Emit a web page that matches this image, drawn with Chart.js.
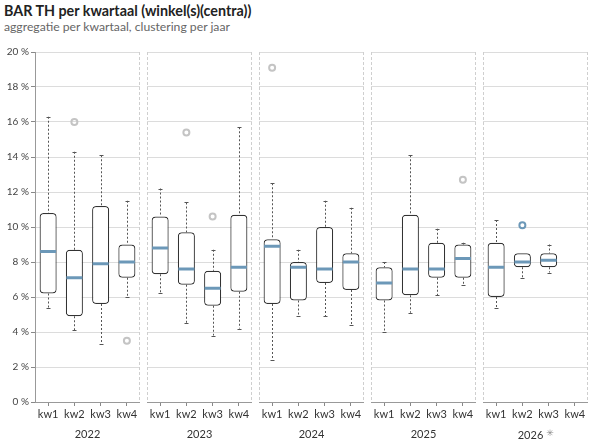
<!DOCTYPE html>
<html lang="nl">
<head>
  <meta charset="UTF-8">
  <title>BAR TH per kwartaal</title>
  <script src="https://cdn.jsdelivr.net/npm/chart.js"></script>
  <style>
    html, body { margin: 0; padding: 0; background: #fff; }
    body { width: 594px; height: 445px; position: relative; overflow: hidden; font-family: Lato, sans-serif; }
    .titel { position: absolute; left: 4px; top: 2px; font-size: 14.3px; font-weight: bold; color: #222; }
    .sub { position: absolute; left: 4px; top: 19px; font-size: 12.2px; color: #666; }
    .paneel { position: absolute; top: 40px; height: 405px; }
  </style>
</head>
<body>
  <div class="titel">BAR TH per kwartaal (winkel(s)(centra))</div>
  <div class="sub">aggregatie per kwartaal, clustering per jaar</div>

  <div class="paneel" style="left:0;width:140px"><canvas id="p0"></canvas></div>
  <div class="paneel" style="left:147px;width:105px"><canvas id="p1"></canvas></div>
  <div class="paneel" style="left:259px;width:105px"><canvas id="p2"></canvas></div>
  <div class="paneel" style="left:371px;width:105px"><canvas id="p3"></canvas></div>
  <div class="paneel" style="left:483px;width:105px"><canvas id="p4"></canvas></div>

  <script>
    // waarden in %, per jaar per kwartaal
    const years = ['2022', '2023', '2024', '2025', '2026'];
    const quarters = ['kw1', 'kw2', 'kw3', 'kw4'];
    const yTicks = [0, 2, 4, 6, 8, 10, 12, 14, 16, 18, 20];

    const whiskerLow  = [[5.4, 4.1, 3.3, 6.0], [6.2, 4.5, 3.8, 4.2], [2.4, 4.9, 4.9, 4.4], [4.0, 5.1, 6.1, 6.7], [5.4, 7.1, 7.4, null]];
    const q1          = [[6.2, 4.9, 5.6, 7.1], [7.3, 6.7, 5.5, 6.3], [5.6, 5.8, 6.8, 6.4], [5.8, 6.1, 7.1, 7.1], [6.0, 7.7, 7.7, null]];
    const median      = [[8.6, 7.1, 7.9, 8.0], [8.8, 7.6, 6.5, 7.7], [8.9, 7.7, 7.6, 8.0], [6.8, 7.6, 7.6, 8.2], [7.7, 8.0, 8.1, null]];
    const q3          = [[10.8, 8.7, 11.2, 9.0], [10.6, 9.7, 7.5, 10.7], [9.3, 8.0, 10.0, 8.5], [7.7, 10.7, 9.1, 9.0], [9.1, 8.5, 8.5, null]];
    const whiskerHigh = [[16.3, 14.3, 14.1, 11.5], [12.2, 11.4, 8.7, 15.7], [12.5, 8.7, 11.5, 11.1], [8.0, 14.1, 9.9, 9.1], [10.4, 8.5, 9.0, null]];
    const outliers    = [[[], [16.0], [], [3.5]], [[], [15.4], [10.6], []], [[19.1], [], [], []], [[], [], [], [12.7]], [[], [10.1], [], []]];
    const voorlopig = 4; // 2026 is nog niet compleet

    const BLAUW = '#6c98b8';
    const GRIJS = '#c4c4c4';

    const boxParts = {
      id: 'boxParts',
      beforeDatasetsDraw(chart) {
        const i = chart.options.plugins.boxParts.year;
        const { ctx, chartArea: a, scales: { x, y } } = chart;
        ctx.save();
        // gestippelde paneelranden
        ctx.strokeStyle = '#cfcfcf';
        ctx.lineWidth = 1;
        ctx.setLineDash([3, 2]);
        ctx.beginPath();
        if (i > 0) { ctx.moveTo(a.left + 0.5, a.top); ctx.lineTo(a.left + 0.5, a.bottom); }
        ctx.moveTo(a.right - 0.5, a.top); ctx.lineTo(a.right - 0.5, a.bottom);
        ctx.stroke();

        // snorharen
        ctx.strokeStyle = '#555';
        ctx.setLineDash([2, 2]);
        quarters.forEach((q, k) => {
          if (q1[i][k] == null) return;
          const cx = Math.round(x.getPixelForValue(k)) + 0.5;
          ctx.beginPath();
          ctx.moveTo(cx, y.getPixelForValue(whiskerHigh[i][k]));
          ctx.lineTo(cx, y.getPixelForValue(q3[i][k]));
          ctx.moveTo(cx, y.getPixelForValue(q1[i][k]));
          ctx.lineTo(cx, y.getPixelForValue(whiskerLow[i][k]));
          ctx.stroke();
        });
        ctx.setLineDash([]);
        quarters.forEach((q, k) => {
          if (q1[i][k] == null) return;
          const cx = Math.round(x.getPixelForValue(k)) + 0.5;
          [whiskerHigh[i][k], whiskerLow[i][k]].forEach(v => {
            if (v === q1[i][k] || v === q3[i][k]) return;
            const py = Math.round(y.getPixelForValue(v)) + 0.5;
            ctx.beginPath();
            ctx.moveTo(cx - 2, py);
            ctx.lineTo(cx + 2, py);
            ctx.stroke();
          });
        });
        ctx.restore();
      },
      afterDatasetsDraw(chart) {
        const i = chart.options.plugins.boxParts.year;
        const { ctx, scales: { x, y } } = chart;
        const meta = chart.getDatasetMeta(0);
        ctx.save();
        ctx.strokeStyle = BLAUW;
        ctx.lineWidth = 3;
        meta.data.forEach((bar, k) => {
          if (median[i][k] == null) return;
          const cx = x.getPixelForValue(k);
          const w = bar.width;
          const py = y.getPixelForValue(median[i][k]);
          ctx.beginPath();
          ctx.moveTo(cx - w / 2 + 0.5, py);
          ctx.lineTo(cx + w / 2 - 0.5, py);
          ctx.stroke();
        });
        ctx.restore();
      },
      afterDraw(chart) {
        // jaartitel met sterretje voor het lopende jaar
        const i = chart.options.plugins.boxParts.year;
        if (i !== voorlopig) return;
        const { ctx, chartArea: a } = chart;
        ctx.save();
        ctx.font = '11px Lato';
        const tekst = years[i];
        const w = ctx.measureText(tekst).width;
        const totaal = w + 10;
        const x0 = (a.left + a.right) / 2 - totaal / 2;
        const yy = chart.height - 10;
        ctx.textBaseline = 'middle';
        ctx.fillStyle = '#333';
        ctx.fillText(tekst, x0, yy);
        ctx.fillStyle = '#888';
        ctx.font = '9px "DejaVu Sans"';
        ctx.fillText('\u2733', x0 + w + 3, yy - 1);
        ctx.restore();
      }
    };

    years.forEach((jaar, i) => {
      const first = i === 0;
      const points = [];
      outliers[i].forEach((lijst, k) => lijst.forEach(v => points.push({ x: quarters[k], y: v })));

      new Chart(document.getElementById('p' + i), {
        type: 'bar',
        data: {
          labels: quarters,
          datasets: [
            {
              label: 'kwartaal',
              data: quarters.map((q, k) => q1[i][k] == null ? null : [q1[i][k], q3[i][k]]),
              backgroundColor: '#fff',
              borderColor: '#333',
              borderWidth: 1.2,
              borderRadius: 4,
              borderSkipped: false,
              barPercentage: 0.65,
              categoryPercentage: 1
            },
            {
              type: 'scatter',
              label: 'uitschieters',
              data: points,
              pointRadius: 3,
              pointBorderWidth: 2,
              pointBackgroundColor: 'rgba(0,0,0,0)',
              pointBorderColor: i === voorlopig ? BLAUW : GRIJS
            }
          ]
        },
        options: {
          responsive: true,
          maintainAspectRatio: false,
          animation: false,
          events: [],
          layout: { autoPadding: false, padding: { top: 12, right: 0, left: 0, bottom: 0 } },
          plugins: {
            legend: { display: false },
            tooltip: { enabled: false },
            boxParts: { year: i }
          },
          scales: {
            x: {
              grid: { display: true, offset: false, drawOnChartArea: false, drawTicks: true, tickLength: 4, tickColor: '#888' },
              border: { display: true, color: '#999' },
              ticks: { color: '#333', font: { family: 'Lato', size: 11 }, padding: 2, maxRotation: 0, autoSkip: false },
              title: { display: i !== voorlopig, text: jaar, color: '#333', font: { family: 'Lato', size: 11 }, padding: { top: 0, bottom: 4 } },
              afterFit: s => { s.height = 43; }
            },
            y: {
              min: 0,
              max: 20,
              afterBuildTicks: s => { s.ticks = yTicks.map(v => ({ value: v })); },
              grid: { color: '#dcdcdc', drawTicks: first, tickLength: 4, tickColor: '#888' },
              border: { display: first, color: '#999' },
              ticks: { display: first, color: '#444', font: { family: 'Lato', size: 10 }, padding: 2, callback: v => v + ' %' },
              afterFit: s => { s.width = first ? 35 : 0; }
            }
          }
        },
        plugins: [boxParts]
      });
    });
  </script>
</body>
</html>
